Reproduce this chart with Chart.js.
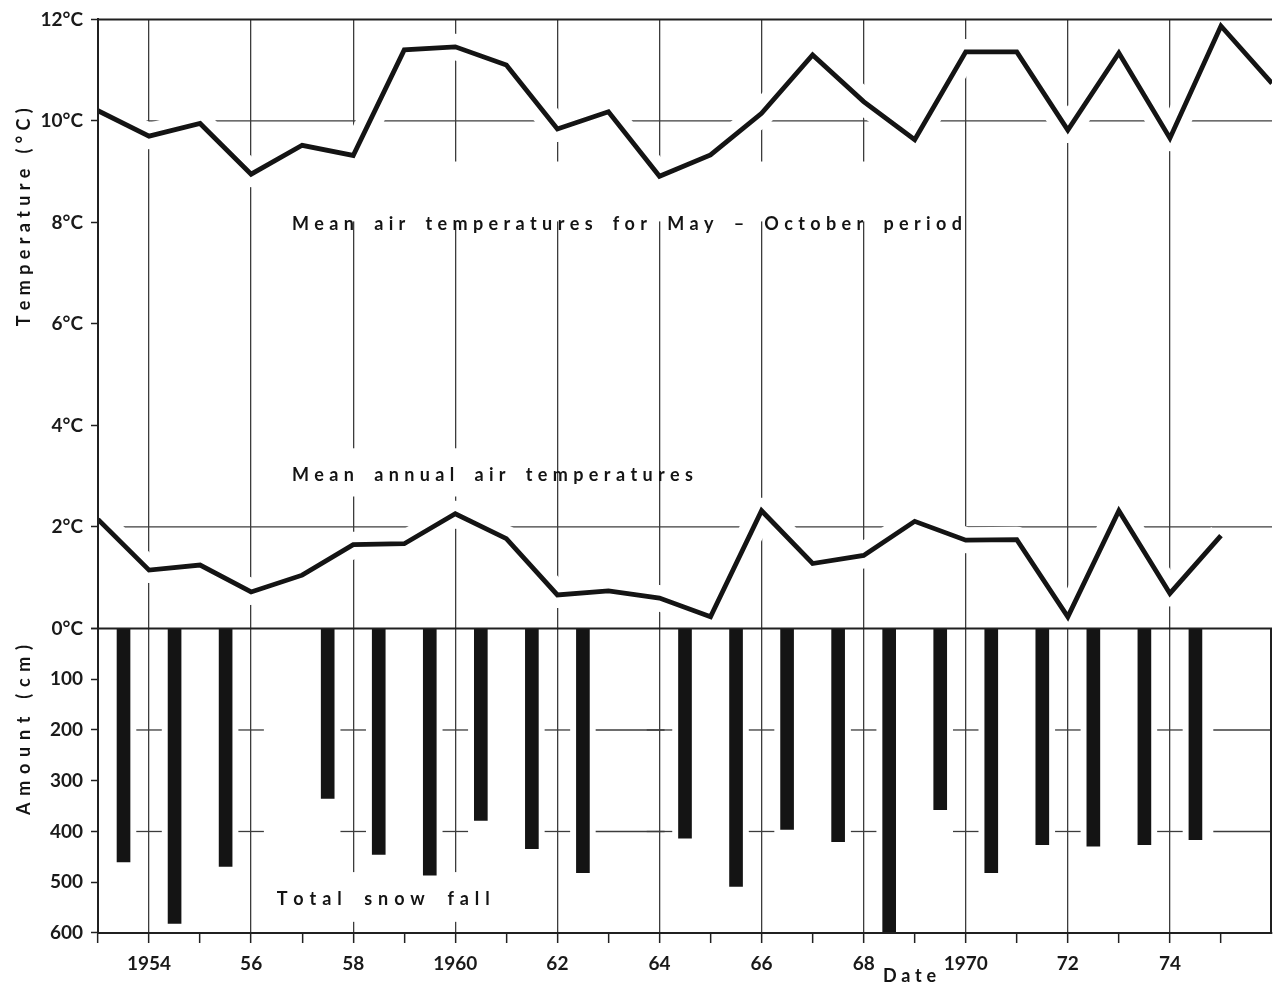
<!DOCTYPE html>
<html>
<head>
<meta charset="utf-8">
<script src="https://cdn.jsdelivr.net/npm/chart.js@4.4.1/dist/chart.umd.min.js"></script>
<style>
html,body{margin:0;padding:0;background:#fff;}
#wrap{width:1281px;height:983px;position:relative;}
</style>
</head>
<body>
<div id="wrap"><canvas id="c" width="1281" height="983"></canvas></div>
<script>
// ---------------- data ----------------
const years = [1953,1954,1955,1956,1957,1958,1959,1960,1961,1962,1963,1964,1965,1966,1967,1968,1969,1970,1971,1972,1973,1974,1975,1976];
const meanMayOct = [10.2,9.7,9.95,8.95,9.52,9.32,11.4,11.46,11.1,9.84,10.18,8.91,9.33,10.15,11.3,10.38,9.63,11.36,11.36,9.82,11.34,9.66,11.87,10.74];
const annualYears = [1953,1954,1955,1956,1957,1958,1959,1960,1961,1962,1963,1964,1965,1966,1967,1968,1969,1970,1971,1972,1973,1974,1975];
const meanAnnual = [2.15,1.15,1.25,0.72,1.05,1.65,1.67,2.26,1.77,0.66,0.74,0.6,0.23,2.32,1.28,1.44,2.11,1.74,1.75,0.23,2.32,0.69,1.83];
// snow seasons (winter starting in the given year)
const snowSeasons = [1953,1954,1955,1957,1958,1959,1960,1961,1962,1964,1965,1966,1967,1968,1969,1970,1971,1972,1973,1974];
const snowfall = [460,581,469,335,445,486,378,434,481,413,508,396,420,600,357,481,426,429,426,416];

const xTickYears = [1954,1956,1958,1960,1962,1964,1966,1968,1970,1972,1974];
const xTickLabels = ['1954','56','58','1960','62','64','66','68','1970','72','74'];
const tempTicks = [0,2,4,6,8,10,12];
const tempTickLabels = ['0°C','2°C','4°C','6°C','8°C','10°C','12°C'];
const snowTicks = [0,100,200,300,400,500,600];
const snowTickLabels = ['','100','200','300','400','500','600'];

const labelMayOct = 'Mean air temperatures for May – October period';
const labelAnnual = 'Mean annual air temperatures';
const labelSnow = 'Total snow fall';
const titleTemp = 'Temperature (°C)';
const titleSnow = 'Amount (cm)';
const titleX = 'Date';

// ---------------- build ----------------
const ptsMayOct = years.map((yr,i)=>({x:yr, y:meanMayOct[i]}));
const ptsAnnual = annualYears.map((yr,i)=>({x:yr, y:meanAnnual[i]}));
const ptsSnow = snowSeasons.map((yr,i)=>({x:yr+0.5, y:snowfall[i]}));

const INK = '#141414';
const GRID = '#3c3c3c';
const FONT = 'Lato, "Open Sans", sans-serif';
const TICKFONT = {family:FONT, size:19, weight:'bold'};

function charWidth(ctx, s){ let w=0; for(const ch of s) w += ctx.measureText(ch).width; return w; }
function drawSpaced(ctx, text, x, y, ls, ws){
  for(const ch of text){ ctx.fillText(ch, x, y); x += ctx.measureText(ch).width + ls + (ch===' ' ? ws : 0); }
}
function fitSpacing(ctx, text, wordW, totalW){
  const first = text.split(' ')[0];
  const ls = (wordW - charWidth(ctx, first)) / (first.length - 1);
  const n = [...text].length;
  const spaces = text.split(' ').length - 1;
  const ws = spaces ? (totalW - charWidth(ctx, text) - ls*(n-1)) / spaces : 0;
  return {ls, ws};
}

const decor = {
  id:'decor',
  beforeDatasetsDraw(chart){
    const {ctx, scales:{x, y, ySnow}} = chart;
    ctx.save();
    ctx.strokeStyle = GRID; ctx.lineWidth = 1.3;
    [10,2].forEach(v=>{
      const py = y.getPixelForValue(v);
      ctx.beginPath(); ctx.moveTo(x.left, py); ctx.lineTo(x.right, py); ctx.stroke();
    });
    const seg = (a,b,py)=>{ctx.beginPath(); ctx.moveTo(x.getPixelForValue(a), py); ctx.lineTo(x.getPixelForValue(b), py); ctx.stroke();};
    [200,400].forEach(v=>{
      const py = ySnow.getPixelForValue(v);
      xTickYears.forEach(yr=> seg(yr-0.25, yr+0.25, py));
      seg(1962.75, 1964.1, py);
      seg(1974.85, 1976, py);
    });
    ctx.fillStyle = '#fff';
    const boxes = [
      [1956.6, 1969.85, 9.2, 8.02, 'y'],
      [1956.6, 1960.9, 3.55, 2.6, 'y'],
      [1956.3, 1960.7, 480, 578, 's']
    ];
    boxes.forEach(([x0,x1,v0,v1,ax])=>{
      const sc = ax==='y' ? y : ySnow;
      const X0 = x.getPixelForValue(x0), X1 = x.getPixelForValue(x1);
      const Y0 = sc.getPixelForValue(v0), Y1 = sc.getPixelForValue(v1);
      ctx.fillRect(X0, Math.min(Y0,Y1), X1-X0, Math.abs(Y1-Y0));
    });
    ctx.fillStyle = INK;
    ctx.font = 'bold 18px ' + FONT;
    ctx.textBaseline = 'alphabetic';
    const texts = [
      [labelMayOct, 1956.8, 7.86, 'y', 62, 670],
      [labelAnnual, 1956.8, 2.91, 'y', 62, 401],
      [labelSnow, 1956.5, 545, 's', 65, 213]
    ];
    texts.forEach(([t, xv, yv, ax, ww, tw])=>{
      const sc = ax==='y' ? y : ySnow;
      const {ls, ws} = fitSpacing(ctx, t, ww, tw);
      drawSpaced(ctx, t, x.getPixelForValue(xv), sc.getPixelForValue(yv), ls, ws);
    });
    const rot = (t, cy, len)=>{
      ctx.save();
      ctx.translate(24, cy); ctx.rotate(-Math.PI/2);
      ctx.textBaseline = 'middle';
      const n = [...t].length;
      const ls = (len - charWidth(ctx, t)) / (n-1);
      drawSpaced(ctx, t, -len/2, 0, ls, 0);
      ctx.restore();
    };
    rot(titleTemp, y.getPixelForValue(8.1), 218);
    rot(titleSnow, ySnow.getPixelForValue(200), 170);
    ctx.textBaseline = 'alphabetic';
    const dls = (53 - charWidth(ctx, titleX)) / 3;
    drawSpaced(ctx, titleX, x.getPixelForValue(1968.38), 982, dls, 0);
    ctx.restore();
  },
  afterDatasetsDraw(chart){
    const {ctx, scales:{x, y, ySnow}} = chart;
    ctx.save();
    ctx.strokeStyle = '#202020'; ctx.lineWidth = 2;
    const L = x.left, R = x.right;
    const top = y.getPixelForValue(12), zero = y.getPixelForValue(0), bot = ySnow.getPixelForValue(600);
    ctx.beginPath();
    ctx.moveTo(L, top); ctx.lineTo(R, top);
    ctx.moveTo(L, zero); ctx.lineTo(R, zero);
    ctx.moveTo(L, bot); ctx.lineTo(R, bot);
    ctx.moveTo(L, top-1); ctx.lineTo(L, bot+1);
    ctx.moveTo(R-1, zero); ctx.lineTo(R-1, bot+1);
    ctx.stroke();
    ctx.restore();
  }
};

const halo = {borderColor:'#fff', borderWidth:26, pointRadius:0, borderJoinStyle:'round', borderCapStyle:'butt', clip:0, order:5, yAxisID:'y', xAxisID:'x'};
const line = {borderColor:INK, borderWidth:4.8, pointRadius:0, borderJoinStyle:'miter', order:2, yAxisID:'y', xAxisID:'x', tension:0};

new Chart(document.getElementById('c'), {
  type:'bar',
  data:{
    datasets:[
      Object.assign({type:'line', label:'halo1', data:ptsMayOct}, halo),
      Object.assign({type:'line', label:'halo2', data:ptsAnnual}, halo),
      Object.assign({type:'line', label:labelMayOct, data:ptsMayOct}, line),
      Object.assign({type:'line', label:labelAnnual, data:ptsAnnual}, line),
      {type:'bar', label:labelSnow, data:ptsSnow, backgroundColor:INK, borderWidth:0, barThickness:13, grouped:false, order:1, yAxisID:'ySnow', xAxisID:'x'}
    ]
  },
  options:{
    responsive:false,
    animation:false,
    layout:{padding:{top:14, right:2, left:0, bottom:0}},
    plugins:{legend:{display:false}, tooltip:{enabled:false}},
    scales:{
      x:{
        type:'linear', position:'bottom', min:1953, max:1976, offset:false,
        afterBuildTicks:s=>{ s.ticks = years.map(v=>({value:v})); },
        afterFit:s=>{ s.height = 50; },
        ticks:{autoSkip:false, maxRotation:0, padding:9, color:'#1a1a1a', font:TICKFONT,
          callback:(v)=>{ const i = xTickYears.indexOf(v); return i>=0 ? xTickLabels[i] : ''; }},
        grid:{
          offset:false,
          color:c=> (c.tick && xTickYears.includes(c.tick.value)) ? GRID : 'rgba(0,0,0,0)',
          lineWidth:1.3,
          tickColor:c=> (c.tick && c.tick.value < 1976) ? '#202020' : 'rgba(0,0,0,0)',
          tickLength:10, tickWidth:1.5
        },
        border:{display:true, color:'#202020', width:2}
      },
      ySnow:{
        type:'linear', position:'left', stack:'left', stackWeight:1, min:0, max:600, reverse:true,
        afterBuildTicks:s=>{ s.ticks = snowTicks.map(v=>({value:v})); },
        afterFit:s=>{ s.width = 98; },
        ticks:{padding:8, color:'#1a1a1a', font:TICKFONT, callback:(v,i)=>snowTickLabels[i]},
        grid:{drawOnChartArea:false, tickLength:7, tickColor:'#202020', tickWidth:1.5},
        border:{display:true, color:'#202020', width:2}
      },
      y:{
        type:'linear', position:'left', stack:'left', stackWeight:2, min:0, max:12,
        afterBuildTicks:s=>{ s.ticks = tempTicks.map(v=>({value:v})); },
        afterFit:s=>{ s.width = 98; },
        ticks:{padding:8, color:'#1a1a1a', font:TICKFONT, callback:(v,i)=>tempTickLabels[i]},
        grid:{drawOnChartArea:false, tickLength:7, tickColor:'#202020', tickWidth:1.5},
        border:{display:true, color:'#202020', width:2}
      }
    }
  },
  plugins:[decor]
});
</script>
</body>
</html>
